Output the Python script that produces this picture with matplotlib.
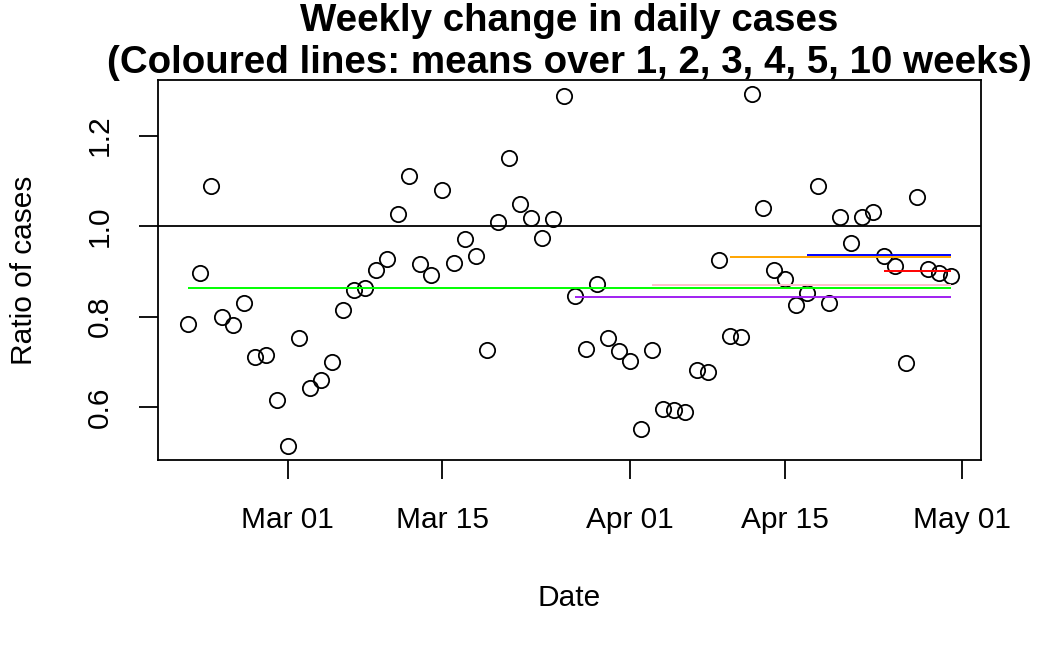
import pandas as pd
import matplotlib.pyplot as plt

plt.rcParams['font.family'] = ['Liberation Sans', 'DejaVu Sans']

# weekly ratio of daily cases, one value per day from Feb 20
start_date = '2021-02-20'
ratio = [0.783, 0.897, 1.089, 0.800, 0.781, 0.829, 0.710, 0.715, 0.615, 0.514,
         0.753, 0.643, 0.659, 0.699, 0.814, 0.858, 0.864, 0.902, 0.928, 1.027,
         1.111, 0.917, 0.892, 1.080, 0.919, 0.972, 0.934, 0.727, 1.010, 1.150,
         1.049, 1.017, 0.974, 1.015, 1.288, 0.845, 0.728, 0.872, 0.752, 0.724,
         0.701, 0.551, 0.727, 0.596, 0.594, 0.590, 0.682, 0.677, 0.926, 0.757,
         0.755, 1.292, 1.040, 0.902, 0.883, 0.825, 0.853, 1.088, 0.831, 1.021,
         0.962, 1.021, 1.032, 0.935, 0.911, 0.697, 1.064, 0.905, 0.897, 0.890]

# windows for the coloured mean lines
mean_weeks = [1, 2, 3, 4, 5, 10]
mean_colours = ['#FF0000', '#0000FF', '#FFA500', '#FFC0CB', '#A020F0', '#00FF00']

tick_dates = ['2021-03-01', '2021-03-15', '2021-04-01', '2021-04-15', '2021-05-01']
tick_labels = ['Mar 01', 'Mar 15', 'Apr 01', 'Apr 15', 'May 01']
y_ticks = [0.6, 0.8, 1.0, 1.2]

dates = pd.date_range(start_date, periods=len(ratio), freq='D')
series = pd.Series(ratio, index=dates)

fig = plt.figure(figsize=(10.62, 6.56), dpi=100)
ax = fig.add_axes([158 / 1062, 1 - 460 / 656, (981 - 158) / 1062, (460 - 80) / 656])

ax.plot(series.index, series.values, linestyle='none', marker='o', markersize=11,
        markerfacecolor='none', markeredgecolor='black', markeredgewidth=1.3)
ax.axhline(1.0, color='black', linewidth=1.3)

# mean over the last n weeks, drawn across that window
for weeks, colour in zip(mean_weeks, mean_colours):
    last = series.iloc[-7 * weeks:]
    ax.hlines(last.mean(), last.index[0], last.index[-1], color=colour, linewidth=1.4)

ax.margins(x=0.04, y=0.04)

ax.set_xticks(pd.to_datetime(tick_dates))
ax.set_xticklabels(tick_labels)
ax.set_yticks(y_ticks)
ax.set_yticklabels([f'{v:.1f}' for v in y_ticks], rotation=90, va='center')
ax.tick_params(axis='both', labelsize=21.5, length=14, width=1.3, direction='out')
ax.tick_params(axis='x', pad=19)
ax.tick_params(axis='y', pad=18)
for side in ax.spines.values():
    side.set_linewidth(1.3)

fig.text(569 / 1062, 1 - 598 / 656, 'Date', fontsize=21.5, ha='center', va='center')
fig.text(24 / 1062, 1 - 270 / 656, 'Ratio of cases', fontsize=21.5, rotation=90,
         ha='center', va='center')

fig.text(569 / 1062, 1 - 21 / 656, 'Weekly change in daily cases',
         fontsize=27.7, fontweight='bold', ha='center', va='center')
fig.text(569 / 1062, 1 - 63 / 656, '(Coloured lines: means over 1, 2, 3, 4, 5, 10 weeks)',
         fontsize=27.7, fontweight='bold', ha='center', va='center')

fig.savefig('out.png', dpi=100)
